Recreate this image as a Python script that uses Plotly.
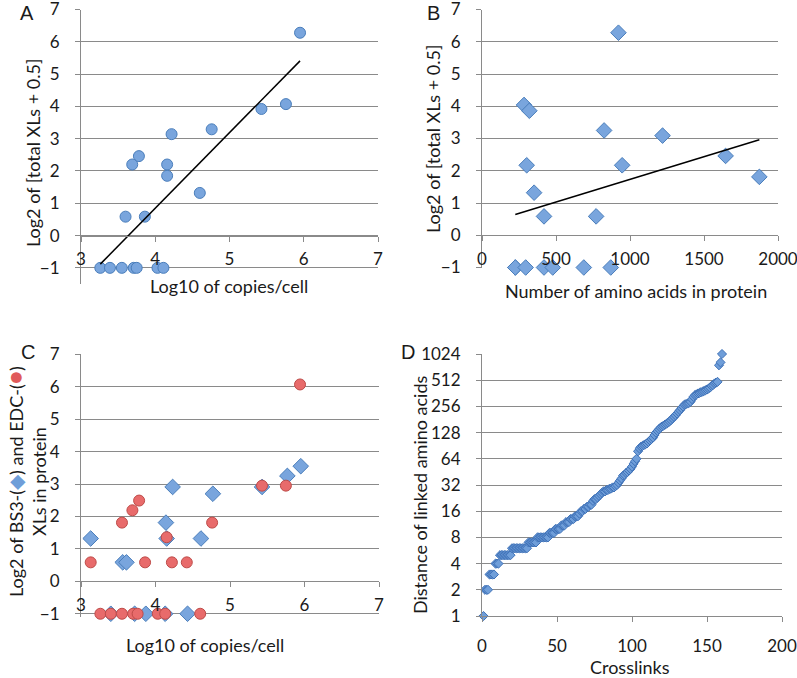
import numpy as np
import plotly.graph_objects as go

W, H = 797, 678
FONT = "Lato"
GRID = "#8a8a8a"

# panel A: log10 copies/cell vs log2(total XLs + 0.5)
a_copies = [5.95, 5.43, 5.76, 4.76, 4.22, 3.78, 3.69, 4.16, 4.16, 4.60, 3.60, 3.86,
            3.26, 3.39, 3.55, 3.71, 3.75, 4.03, 4.11]
a_xls = [6.28, 3.92, 4.07, 3.29, 3.14, 2.46, 2.20, 2.20, 1.85, 1.32, 0.585, 0.585,
         -1, -1, -1, -1, -1, -1, -1]

# panel B: protein length vs log2(total XLs + 0.5)
b_aa = [922, 284, 320, 825, 1220, 1646, 302, 947, 1874, 352, 419, 771,
        225, 225, 295, 419, 478, 688, 870]
b_xls = [6.28, 4.04, 3.86, 3.25, 3.09, 2.46, 2.17, 2.17, 1.81, 1.32, 0.585, 0.585,
         -1, -1, -1, -1, -1, -1, -1]

# panel C: BS3 (diamonds) and EDC (circles)
c_bs3_x = [5.95, 5.77, 5.43, 4.23, 4.77, 4.14, 4.15, 3.13, 4.61, 3.56, 3.61,
           3.40, 3.72, 3.87, 4.13, 4.43]
c_bs3_y = [3.55, 3.25, 2.91, 2.91, 2.70, 1.81, 1.32, 1.32, 1.32, 0.585, 0.585,
           -1, -1, -1, -1, -1]
c_edc_x = [5.94, 5.43, 5.75, 4.76, 3.78, 3.69, 3.55, 4.15, 3.13, 3.86, 4.22, 4.42,
           3.26, 3.40, 3.55, 3.70, 3.76, 4.03, 4.13, 4.60]
c_edc_y = [6.07, 2.95, 2.95, 1.81, 2.49, 2.19, 1.81, 1.36, 0.585, 0.585, 0.585, 0.585,
           -1, -1, -1, -1, -1, -1, -1, -1]

# panel D: sorted distances between linked amino acids
d_dist = [1, 2, 2, 2, 3, 3, 3, 3, 4, 4, 4,
          5, 5, 5, 5, 5, 5, 5, 5,
          6, 6, 6, 6, 6, 6, 6, 6, 6, 6, 6,
          7, 7, 7, 7, 7, 7,
          8, 8, 8, 8, 8, 8, 8, 8,
          9, 9, 9, 9, 10, 10, 10, 10, 11, 11, 11,
          12, 12, 12, 13, 13, 13, 14, 14, 14,
          15, 16, 16, 17, 17, 18, 18, 19, 19,
          21, 22, 22, 23, 24, 25, 26, 27, 27,
          28, 28, 29, 29, 30, 30, 31, 32,
          34, 36, 38, 41, 42, 44, 45, 47, 49,
          52, 56, 60, 64, 78, 84, 88, 90, 92,
          94, 96, 100, 104, 108, 112, 120, 128, 134,
          140, 146, 150, 154, 158, 162, 166, 172, 178,
          186, 194, 202, 212, 222, 232, 244, 256, 268,
          272, 276, 280, 290, 310, 330, 345, 352, 360,
          366, 372, 378, 384, 392, 400, 410, 420, 440,
          450, 470, 480, 490, 760, 820, 1024]
d_x = list(range(1, len(d_dist) + 1))
d_ticks = [1, 2, 4, 8, 16, 32, 64, 128, 256, 512, 1024]


def px_x(p):
    return p / W


def px_y(p):
    return 1 - p / H


# plot areas in pixels: (left, right, top, bottom) and y ranges
dom = {
    "A": (81, 378, 9.5, 284, [-1.5, 7]),
    "B": (482, 778, 9.5, 267.5, [-1, 7]),
    "C": (81, 379, 354.3, 617, [-1.1, 7]),
}


def zero_pos(key):
    l, r, t, b, rng = dom[key]
    frac = (0 - rng[0]) / (rng[1] - rng[0])
    return px_y(b) + frac * (px_y(t) - px_y(b))


blue_circle = dict(symbol="circle", size=11, color="#79A5DD",
                   line=dict(color="#4A7EBB", width=1))
blue_diamond = dict(symbol="diamond", size=12, color="#79A5DD",
                    line=dict(color="#4A7EBB", width=1))
red_circle = dict(symbol="circle", size=11, color="#E86B6B",
                  line=dict(color="#BE4B48", width=1))

fig = go.Figure()

fig.add_trace(go.Scatter(x=a_copies, y=a_xls, mode="markers", marker=blue_circle,
                         cliponaxis=False, xaxis="x", yaxis="y"))
ka = np.polyfit(a_copies, a_xls, 1)
xa = np.array([min(a_copies), max(a_copies)])
fig.add_trace(go.Scatter(x=xa, y=np.polyval(ka, xa), mode="lines",
                         line=dict(color="black", width=1.5), xaxis="x", yaxis="y"))

fig.add_trace(go.Scatter(x=b_aa, y=b_xls, mode="markers", marker=blue_diamond,
                         cliponaxis=False, xaxis="x2", yaxis="y2"))
kb = np.polyfit(b_aa, b_xls, 1)
xb = np.array([min(b_aa), max(b_aa)])
fig.add_trace(go.Scatter(x=xb, y=np.polyval(kb, xb), mode="lines",
                         line=dict(color="black", width=1.5), xaxis="x2", yaxis="y2"))

fig.add_trace(go.Scatter(x=c_bs3_x, y=c_bs3_y, mode="markers", marker=blue_diamond,
                         cliponaxis=False, xaxis="x3", yaxis="y3"))
fig.add_trace(go.Scatter(x=c_edc_x, y=c_edc_y, mode="markers", marker=red_circle,
                         cliponaxis=False, xaxis="x3", yaxis="y3"))

fig.add_trace(go.Scatter(x=d_x, y=d_dist, mode="markers",
                         marker=dict(symbol="diamond", size=7, color="#6F9ED9",
                                     line=dict(color="#3F72B8", width=1)),
                         cliponaxis=False, xaxis="x4", yaxis="y4"))

tickfont = dict(family=FONT, size=17, color="#1a1a1a")
base = dict(showline=True, linecolor=GRID, linewidth=1, ticks="outside", ticklen=5,
            tickcolor=GRID, tickfont=tickfont, zeroline=False, showgrid=False,
            automargin=False, ticklabeloverflow="allow")
ybase = dict(base, showgrid=True, gridcolor=GRID, gridwidth=1, ticklabelstandoff=12)


def xaxis_for(key, rng, dtick):
    l, r, t, b, yr = dom[key]
    return dict(base, domain=[px_x(l), px_x(r)], range=rng, dtick=dtick,
                anchor="free", position=zero_pos(key), ticklabelstandoff=3)


def yaxis_for(key, anchor_x):
    l, r, t, b, yr = dom[key]
    return dict(ybase, domain=[px_y(b), px_y(t)], range=yr, dtick=1, tick0=0,
                anchor=anchor_x)


fig.update_layout(
    width=W, height=H, showlegend=False,
    paper_bgcolor="white", plot_bgcolor="white",
    margin=dict(l=0, r=0, t=0, b=0),
    font=dict(family=FONT, size=17, color="#1a1a1a"),
    xaxis=xaxis_for("A", [3, 7], 1),
    yaxis=yaxis_for("A", "x"),
    xaxis2=xaxis_for("B", [0, 2000], 500),
    yaxis2=yaxis_for("B", "x2"),
    xaxis3=xaxis_for("C", [3, 7], 1),
    yaxis3=yaxis_for("C", "x3"),
    xaxis4=dict(base, domain=[px_x(482), px_x(782)], range=[0, 200], dtick=50,
                anchor="y4", ticklabelstandoff=10),
    yaxis4=dict(ybase, type="log", domain=[px_y(616), px_y(354)],
                range=[0, np.log10(1024)], tickvals=d_ticks,
                ticktext=[str(v) for v in d_ticks], anchor="x4"),
)

ann = [
    ("A", 27, 13, 0, 20, "Liberation Sans"),
    ("B", 433, 13, 0, 20, "Liberation Sans"),
    ("C", 28, 352, 0, 20, "Liberation Sans"),
    ("D", 408, 352, 0, 20, "Liberation Sans"),
    ("Log10 of copies/cell", 229, 286, 0, 18, FONT),
    ("Number of amino acids in protein", 636, 291, 0, 18, FONT),
    ("Log10 of copies/cell", 205, 645, 0, 18, FONT),
    ("Crosslinks", 630, 667, 0, 18, FONT),
    ("Log2 of [total XLs + 0.5]", 33, 153, -90, 18, FONT),
    ("Log2 of [total XLs + 0.5]", 433, 139, -90, 18, FONT),
    ("Distance of linked amino acids", 420, 495, -90, 18, FONT),
    ("Log2 of BS3-(<span style='color:#6F9ED9;font-size:20px'>◆</span>) and "
     "EDC-(<span style='color:#E05A5A;font-size:22px'>●</span>)"
     "<br>XLs in protein", 25, 482, -90, 18, FONT),
]
fig.update_layout(annotations=[
    dict(text=t, x=px_x(x), y=px_y(y), xref="paper", yref="paper", showarrow=False,
         xanchor="center", yanchor="middle", textangle=a,
         font=dict(family=f, size=s, color="#1a1a1a"))
    for t, x, y, a, s, f in ann
])

# page body has a default 8px margin; remove it so the figure fills the window
fig.write_html("out.html", config={"displayModeBar": False},
               post_script="document.body.style.margin='0';"
                           "document.body.style.overflow='hidden';")
